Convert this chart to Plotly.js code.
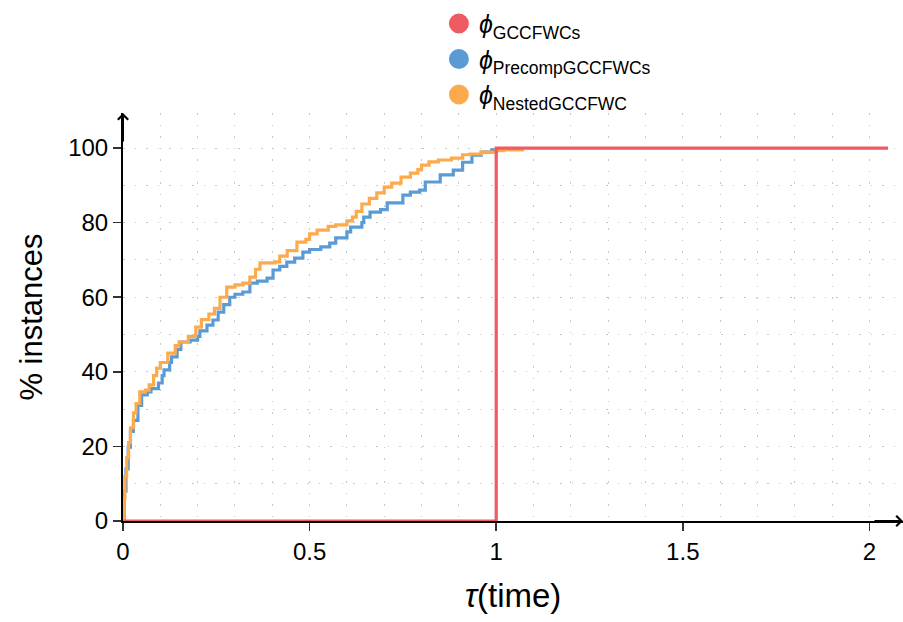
<!DOCTYPE html>
<html>
<head>
<meta charset="utf-8">
<script src="https://cdn.plot.ly/plotly-3.0.1.min.js"></script>
<style>html,body{margin:0;padding:0;background:#fff;}#chart{width:903px;height:622px;}</style>
</head>
<body>
<div id="chart"></div>
<script>
// Series names
const seriesNames = ["GCCFWCs", "PrecompGCCFWCs", "NestedGCCFWC"];

// phi_GCCFWCs (red)
const gccX = [0, 1, 1, 2.05];
const gccY = [0, 0, 100, 100];

// phi_PrecompGCCFWCs (blue)
const precompX = [0, 0.003, 0.008, 0.014, 0.02, 0.028, 0.04, 0.05, 0.065, 0.075, 0.095, 0.105, 0.11, 0.125, 0.13, 0.145, 0.155, 0.18, 0.2, 0.206, 0.225, 0.241, 0.255, 0.27, 0.286, 0.3, 0.321, 0.34, 0.36, 0.386, 0.402, 0.42, 0.439, 0.46, 0.482, 0.5, 0.53, 0.554, 0.57, 0.6, 0.61, 0.64, 0.645, 0.662, 0.69, 0.708, 0.75, 0.77, 0.795, 0.81, 0.85, 0.885, 0.91, 0.935, 0.96, 0.988, 1.0];
const precompY = [0, 8, 14, 19.8, 24, 27, 31, 33.8, 34.6, 35.5, 37, 39, 40.5, 42.5, 44, 46, 48, 48.5, 49.5, 51, 52.5, 53.9, 56, 58, 60, 60.8, 61.4, 63.8, 64.3, 65.1, 67.3, 68.3, 69.4, 70.5, 72.1, 72.8, 73.5, 74.5, 75.9, 77.5, 78.8, 80, 81.5, 82.8, 83.5, 85.3, 87.4, 88.2, 88.7, 90.9, 92.8, 94.1, 96.2, 98.1, 98.9, 99.5, 99.7];

// phi_NestedGCCFWC (orange)
const nestedX = [0, 0.002, 0.005, 0.01, 0.015, 0.02, 0.028, 0.035, 0.045, 0.06, 0.07, 0.082, 0.09, 0.1, 0.12, 0.14, 0.15, 0.175, 0.195, 0.21, 0.23, 0.245, 0.26, 0.278, 0.3, 0.321, 0.34, 0.355, 0.367, 0.39, 0.407, 0.42, 0.44, 0.466, 0.49, 0.5, 0.52, 0.55, 0.57, 0.6, 0.615, 0.625, 0.64, 0.66, 0.68, 0.7, 0.72, 0.745, 0.77, 0.79, 0.8, 0.82, 0.845, 0.88, 0.91, 0.93, 0.96, 1.0, 1.02, 1.07];
const nestedY = [0, 6, 12, 17, 21, 25, 29, 31.5, 34.6, 35.1, 36.5, 39, 41, 42.5, 45, 47, 48, 49.5, 52, 54, 55.5, 57, 60, 62.7, 63.3, 63.8, 65.4, 67.5, 69.2, 69.2, 69.5, 71, 72.5, 74.8, 75.5, 77, 78, 79, 79.4, 80.5, 81.5, 83, 85, 86.5, 88, 89.5, 90.6, 92.2, 93.3, 94.2, 95.4, 96.3, 96.8, 97.3, 98.2, 98.4, 98.9, 99.3, 99.5, 99.7];

// Axis ticks
const xTickVals = [0, 0.5, 1, 1.5, 2];
const xTickText = ["0", "0.5", "1", "1.5", "2"];
const yTickVals = [0, 20, 40, 60, 80, 100];
const yTickText = ["0", "20", "40", "60", "80", "100"];

const colors = ["#EF5A63", "#5B9BD5", "#FDAA4E"];
const FONT = "Liberation Sans, Arial, sans-serif";

const traces = [
  {x: precompX, y: precompY, mode: "lines", line: {shape: "hv", color: colors[1], width: 3.2}, showlegend: false, hoverinfo: "skip"},
  {x: nestedX, y: nestedY, mode: "lines", line: {shape: "hv", color: colors[2], width: 3.2}, showlegend: false, hoverinfo: "skip"},
  {x: gccX, y: gccY, mode: "lines", line: {color: colors[0], width: 3.2}, showlegend: false, hoverinfo: "skip"}
];
seriesNames.forEach((n, i) => {
  traces.push({
    x: [null], y: [null], mode: "markers", name: "<i>ϕ</i><sub>" + n + "</sub>",
    marker: {color: colors[i], size: 20, symbol: "circle", line: {color: colors[i], width: 4}}, legendgroup: "g" + i
  });
});

const gridDash = "1.5px,10px";
const layout = {
  width: 903, height: 622,
  margin: {l: 123, r: 0, t: 113, b: 101},
  paper_bgcolor: "#fff", plot_bgcolor: "#fff",
  font: {family: FONT, color: "#000", size: 24},
  showlegend: true,
  legend: {x: 0.405, xanchor: "left", y: 1.275, yanchor: "top", font: {size: 25, family: FONT}, tracegroupgap: 0, itemsizing: "trace", itemwidth: 30, bgcolor: "rgba(0,0,0,0)", borderwidth: 0},
  xaxis: {
    range: [0, 2.09], tickvals: xTickVals, ticktext: xTickText,
    showline: true, linecolor: "#000", linewidth: 2,
    ticks: "outside", ticklen: 8, tickwidth: 1.5, tickcolor: "#333",
    tickfont: {size: 24, family: FONT},
    showgrid: true, gridcolor: "#c8c8c8", gridwidth: 1, griddash: gridDash,
    minor: {dtick: 0.1, tick0: 0, showgrid: true, gridcolor: "#c8c8c8", gridwidth: 1, griddash: gridDash, ticks: ""},
    zeroline: false,
    title: {text: "<i>τ</i>(time)", font: {size: 33, family: FONT}, standoff: 20}
  },
  yaxis: {
    range: [0, 109.4], tickvals: yTickVals, ticktext: yTickText,
    showline: true, linecolor: "#000", linewidth: 2,
    ticks: "outside", ticklen: 8, tickwidth: 1.5, tickcolor: "#333",
    tickfont: {size: 24, family: FONT},
    showgrid: true, gridcolor: "#c8c8c8", gridwidth: 1, griddash: gridDash,
    minor: {dtick: 10, tick0: 0, showgrid: true, gridcolor: "#c8c8c8", gridwidth: 1, griddash: gridDash, ticks: ""},
    zeroline: false,
    title: {text: "% instances", font: {size: 31, family: FONT}, standoff: 16}
  },
  annotations: [
    {x: 2.09, y: 0, xref: "x", yref: "y", ax: -30, ay: 0, showarrow: true, arrowhead: 4, arrowsize: 1, arrowwidth: 2, arrowcolor: "#000", text: ""},
    {x: 0, y: 109.4, xref: "x", yref: "y", ax: 0, ay: 30, showarrow: true, arrowhead: 4, arrowsize: 1, arrowwidth: 2, arrowcolor: "#000", text: ""}
  ]
};

Plotly.newPlot("chart", traces, layout, {displayModeBar: false, staticPlot: true});
</script>
</body>
</html>
